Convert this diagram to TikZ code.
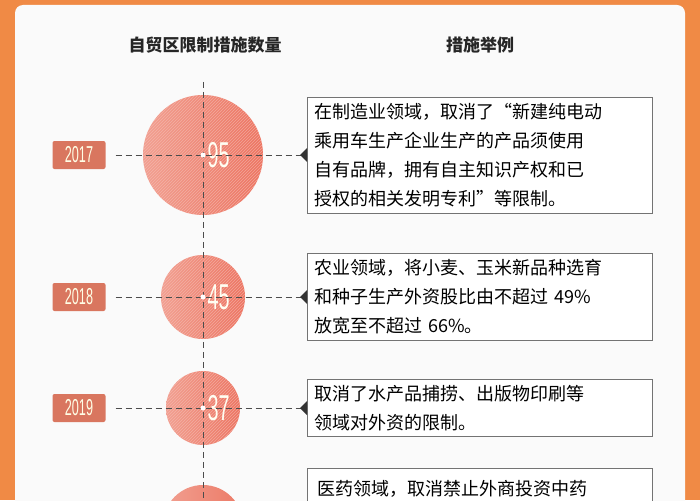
\documentclass[tikz,border=0pt]{standalone}
\usepackage{fontspec}
\setmainfont{Noto Sans CJK SC}
\newfontfamily\numfont{Liberation Sans}
\usetikzlibrary{patterns}
\definecolor{frame}{HTML}{F08A45}
\definecolor{panel}{HTML}{FAFAFA}
\definecolor{salmon}{HTML}{EC7A66}
\definecolor{yearred}{HTML}{D9765F}
\tikzset{
  yearbox/.style={fill=yearred, text=white!90!yellow, inner sep=0pt, minimum width=53pt, minimum height=28pt, rounded corners=2pt, font=\numfont\fontsize{23}{23}\selectfont},
  txtbox/.style={draw=black!55, fill=white, line width=0.8pt, inner xsep=7pt, inner ysep=6pt, align=left, text width=331pt, font=\fontsize{18}{29}\selectfont},
  dashline/.style={dash pattern=on 6pt off 4pt, black!70, line width=0.6pt},
  numtxt/.style={text=white!95!yellow, font=\numfont\fontsize{36}{36}\selectfont},
  head/.style={font=\bfseries\fontsize{17}{17}\selectfont, text=black!85}
}
\newcommand{\bubble}[3]{%
  \shade[left color=salmon!72!white, right color=salmon!95!red] (#1) circle (#2);
  \fill[pattern=north east lines, pattern color=white!55!salmon, opacity=0.6] (#1) circle (#2);
  \node[numtxt, anchor=west] at ([xshift=1pt]#1) {\scalebox{0.55}[1]{#3}};
}
\begin{document}
\begin{tikzpicture}[x=1pt,y=-1pt]
\useasboundingbox (0,0) rectangle (700,500);
% frame
\fill[frame] (0,0) rectangle (700,500);
\fill[panel, rounded corners=8pt] (15,5) rectangle (685,520);
% headers
\node[head] (h1) at (205,45) {自贸区限制措施数量};
\node[head] (h2) at (480,45) {措施举例};
% rows
\foreach \y/\r/\yr/\n/\t in {
  155/60/2017/95/{在制造业领域，取消了“新建纯电动\\乘用车生产企业生产的产品须使用\\自有品牌，拥有自主知识产权和已\\授权的相关发明专利”等限制。},
  297/42/2018/45/{农业领域，将小麦、玉米新品种选育\\和种子生产外资股比由不超过 49\%\\放宽至不超过 66\%。},
  408/37/2019/37/{取消了水产品捕捞、出版物印刷等\\领域对外资的限制。}}{
  \coordinate (c\yr) at (203,\y);
  \bubble{c\yr}{\r pt}{\n}
  \node[yearbox] (y\yr) at (79,\y) {\scalebox{0.55}[1]{\yr}};
  \node[txtbox, anchor=west] (b\yr) at (307,\y) {\t};
  \draw[dashline] (y\yr.east) ++(10pt,0) -- (b\yr.west);
  \fill[black!80] (b\yr.west) ++(-7pt,0) -- ++(7pt,-7pt) -- ++(0,14pt) -- cycle;
}
% last row
\shade[left color=salmon!72!white, right color=salmon] (203,525) circle (40pt);
\node[txtbox, anchor=north west, minimum height=60pt] (b2020) at (307,468) {};
\node[anchor=west, font=\fontsize{18}{29}\selectfont] (t2020) at (314,489) {医药领域，取消禁止外商投资中药};
% axis
\coordinate (top) at (203,82);
\coordinate (bot) at (203,500);
\draw[dashline] (top) -- (bot);
\foreach \yr in {2017,2018,2019}{\fill[white] (c\yr) circle (2.5pt);}
\end{tikzpicture}
\end{document}
